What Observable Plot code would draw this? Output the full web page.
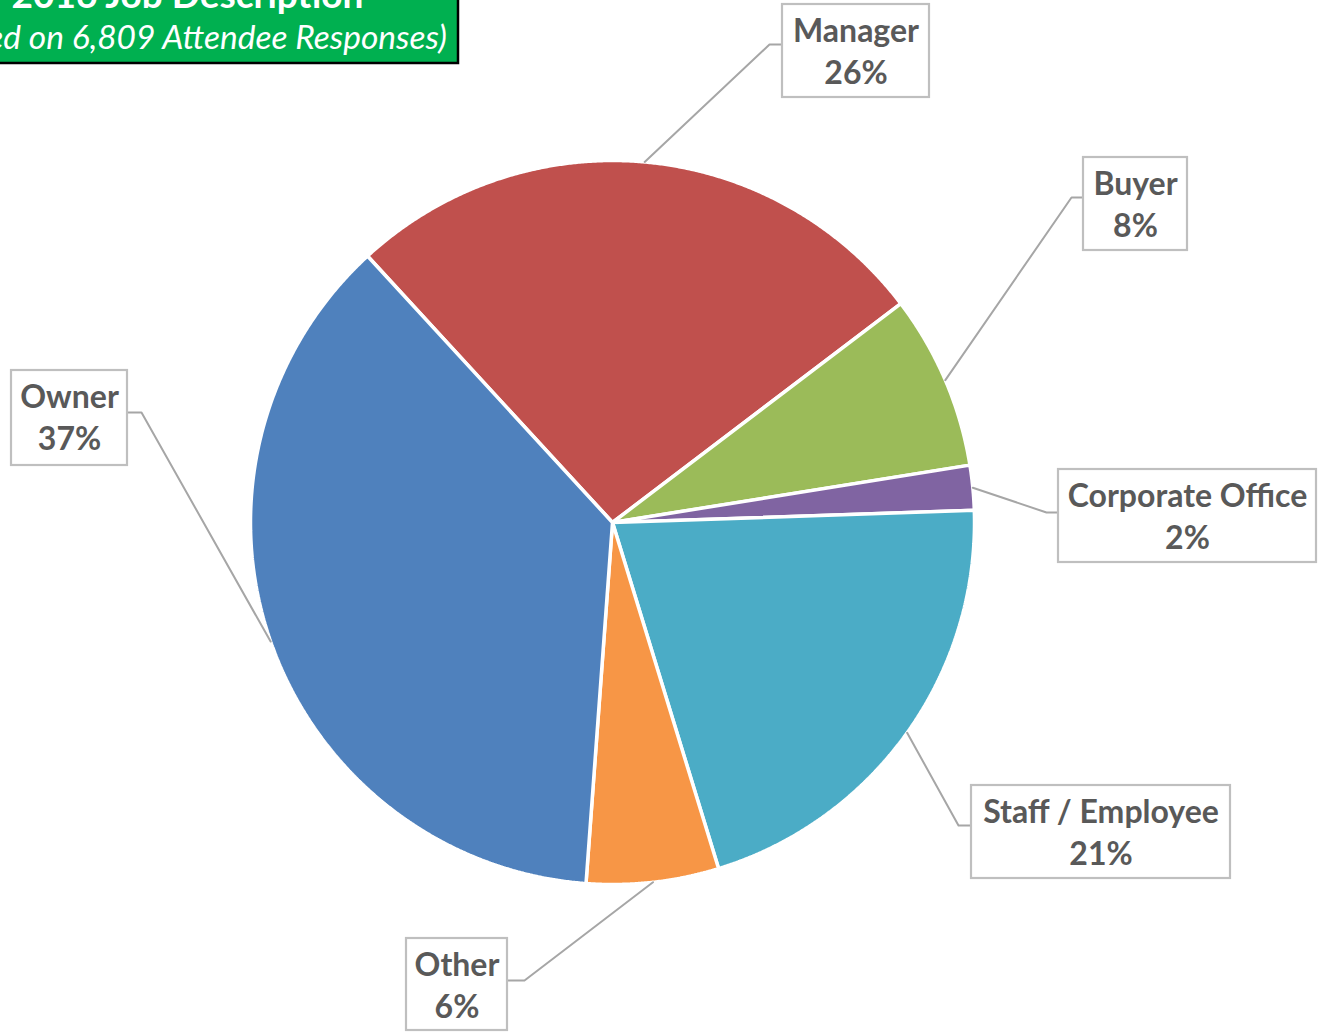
<!DOCTYPE html>
<html>
<head>
<meta charset="utf-8">
<script src="https://cdn.jsdelivr.net/npm/d3@7"></script>
<script src="https://cdn.jsdelivr.net/npm/@observablehq/plot@0.6"></script>
<style>
  html, body { margin: 0; padding: 0; background: #fff; overflow: hidden; }
  #chart { position: relative; width: 1320px; height: 1033px; }
</style>
</head>
<body>
<div id="chart"></div>
<script>
// ---- Data ----
const categories = ["Manager", "Buyer", "Corporate Office", "Staff / Employee", "Other", "Owner"];
const shares = [26.5, 7.8, 2.0, 20.8, 5.9, 37.0];
const percentLabels = ["26%", "8%", "2%", "21%", "6%", "37%"];
const colors = ["#C0504D", "#9BBB59", "#8064A2", "#4BACC6", "#F79646", "#4F81BD"];
const titleText = "2016 Job Description";
const subtitleText = "(Based on 6,809 Attendee Responses)";

// ---- Layout (pixels) ----
const W = 1320, H = 1033;
const cx = 612, cy = 522, R = 362;
const firstSliceAngle = 317.4; // degrees clockwise from 12 o'clock
const labelBoxes = [ // [x1, y1, x2, y2], bend point
  {box: [782, 4, 929, 97], bend: [769, 44], side: "left"},
  {box: [1083, 157, 1187, 250], bend: [1071, 197], side: "left"},
  {box: [1058, 469, 1316, 562], bend: [1046, 512], side: "left"},
  {box: [971, 785, 1230, 878], bend: [958, 825], side: "left"},
  {box: [406, 938, 507, 1030], bend: [524, 980], side: "right"},
  {box: [11, 370, 127, 465], bend: [141, 412], side: "right"}
];

const rows = categories.map((c, i) => ({category: c, share: shares[i], pct: percentLabels[i], color: colors[i]}));
const a0 = firstSliceAngle * Math.PI / 180;
const arcs = d3.pie().sort(null).value(d => d.share).startAngle(a0).endAngle(a0 + 2 * Math.PI)(rows);

const px = (a, r) => cx + r * Math.sin(a);
const py = (a, r) => cy - r * Math.cos(a);

// slice polygons
const slicePts = [];
arcs.forEach(arc => {
  const d = arc.data;
  slicePts.push({category: d.category, color: d.color, x: cx, y: cy});
  const n = Math.max(2, Math.ceil((arc.endAngle - arc.startAngle) / (0.25 * Math.PI / 180)));
  for (let k = 0; k <= n; k++) {
    const a = arc.startAngle + (arc.endAngle - arc.startAngle) * k / n;
    slicePts.push({category: d.category, color: d.color, x: px(a, R), y: py(a, R)});
  }
});

// leader lines, boxes, label texts
const leaderPts = [];
const boxes = [];
const textLines = [];
arcs.forEach((arc, i) => {
  const d = arc.data;
  const L = labelBoxes[i];
  const mid = (arc.startAngle + arc.endAngle) / 2;
  const [x1, y1, x2, y2] = L.box;
  const ex = L.side === "left" ? x1 : x2;
  leaderPts.push({category: d.category, x: px(mid, R), y: py(mid, R)});
  leaderPts.push({category: d.category, x: L.bend[0], y: L.bend[1]});
  leaderPts.push({category: d.category, x: ex, y: L.bend[1]});
  boxes.push({x1, y1, x2, y2});
  textLines.push({x: (x1 + x2) / 2, y: y1 + 27, text: d.category});
  textLines.push({x: (x1 + x2) / 2, y: y1 + 69, text: d.pct});
});

const plot = Plot.plot({
  width: W,
  height: H,
  margin: 0,
  x: {domain: [0, W], range: [0, W], axis: null},
  y: {domain: [0, H], range: [0, H], axis: null},
  style: {fontFamily: "Lato, 'Open Sans', sans-serif", background: "white", overflow: "visible"},
  marks: [
    Plot.line(slicePts, {x: "x", y: "y", z: "category", fill: d => d.color, stroke: "white", strokeWidth: 3.5, curve: "linear-closed", strokeLinejoin: "miter"}),
    Plot.line(leaderPts, {x: "x", y: "y", z: "category", stroke: "#A6A6A6", strokeWidth: 2, curve: "linear"}),
    Plot.rect(boxes, {x1: "x1", y1: "y1", x2: "x2", y2: "y2", fill: "white", stroke: "#BFBFBF", strokeWidth: 2.2}),
    Plot.text(textLines, {x: "x", y: "y", text: "text", fill: "#595959", fontSize: 32, fontWeight: "bold", lineAnchor: "middle"}),
    // title box
    Plot.rect([{x1: -90, y1: -40, x2: 458, y2: 63}], {x1: "x1", y1: "y1", x2: "x2", y2: "y2", fill: "#00B050", stroke: "black", strokeWidth: 2.5}),
    Plot.text([{x: 187, y: 7, t: titleText}], {x: "x", y: "y", text: "t", fill: "white", fontSize: 37, fontWeight: "bold", lineAnchor: "bottom"}),
    Plot.text([{x: 187, y: 48, t: subtitleText}], {x: "x", y: "y", text: "t", fill: "white", fontSize: 33.5, fontStyle: "italic", lineAnchor: "bottom"})
  ]
});
document.getElementById("chart").appendChild(plot);
</script>
</body>
</html>
